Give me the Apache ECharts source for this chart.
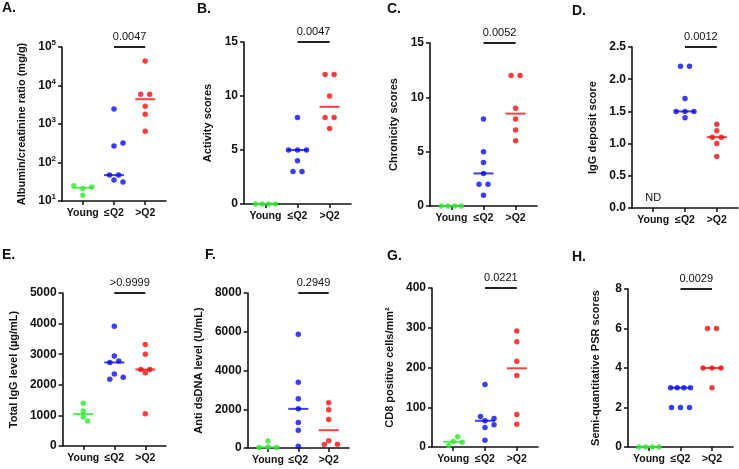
<!DOCTYPE html>
<html>
<head>
<meta charset="utf-8">
<script src="https://cdn.jsdelivr.net/npm/echarts@6/dist/echarts.min.js"></script>
<style>html,body{margin:0;padding:0;background:#fff;}#wrap{position:relative;width:739px;height:469px;overflow:hidden;}.p{position:absolute;}</style>
</head>
<body>
<div id="wrap"></div>
<script>
// ---------- data ----------
const CATS = ['Young', '≤Q2', '>Q2'];

const A_young = [21, 23, 25, 14];
const A_low = [2470, 270, 320, 47, 47, 35, 31];
const A_high = [43000, 5900, 5900, 2900, 1800, 650];
const A_p = '0.0047';

const B_young = [0, 0, 0, 0];
const B_low = [8, 5, 5, 5, 4, 3, 3];
const B_high = [12, 12, 10, 8, 8, 7];
const B_p = '0.0047';

const C_young = [0, 0, 0, 0];
const C_low = [8, 5, 4, 3, 2, 2, 1];
const C_high = [12, 12, 9, 8, 7, 6];
const C_p = '0.0052';

const D_young = [];
const D_low = [2.2, 2.2, 1.7, 1.5, 1.5, 1.5, 1.4];
const D_high = [1.3, 1.2, 1.1, 1.1, 1.0, 0.8];
const D_p = '0.0012';

const E_young = [1400, 1140, 950, 820];
const E_low = [3910, 2940, 2780, 2730, 2350, 2250, 2180];
const E_high = [3320, 3000, 2500, 2500, 2390, 1050];
const E_p = '>0.9999';

const F_young = [360, 50, 20, 30];
const F_low = [5870, 3390, 2540, 2020, 1310, 915, 90];
const F_high = [2330, 1980, 1470, 370, 200, 180];
const F_p = '0.2949';

const G_young = [14, 26, 12, 4];
const G_low = [157, 66, 72, 77, 49, 56, 17];
const G_high = [292, 265, 216, 180, 82, 57];
const G_p = '0.0221';

const H_young = [0, 0, 0, 0];
const H_low = [3, 3, 3, 3, 2, 2, 2];
const H_high = [6, 6, 4, 4, 4, 3];
const H_p = '0.0029';

// ---------- layout / style ----------
const COLORS = ['#33e633', '#0d0df2', '#f21212'];
const FONT = '"Liberation Sans", Arial, sans-serif';
const INK = '#111';
const SLOTS = ['', '', CATS[0], '', '', CATS[1], '', '', CATS[2], '', ''];
const XMIN = -2 / 3, XMAX = 8 / 3;
const isCat = (i, v) => v !== '';

const panels = [
  {box:[0, 0, 185, 235], letter:'A.', lx:2, ly:1, name:'Albumin/creatinine ratio (mg/g)', groups:[A_young,A_low,A_high], p:A_p,
   log:true, min:10, max:100000, grid:{left:62, top:47, width:104, height:154}, gap:29},
  {box:[185, 0, 185, 235], letter:'B.', lx:197, ly:2, name:'Activity scores', groups:[B_young,B_low,B_high], p:B_p,
   min:0, max:15, interval:5, grid:{left:244, top:42, width:107, height:162}, gap:23},
  {box:[370, 0, 185, 235], letter:'C.', lx:387, ly:2, name:'Chronicity scores', groups:[C_young,C_low,C_high], p:C_p,
   min:0, max:15, interval:5, grid:{left:430, top:43, width:107, height:163}, gap:24},
  {box:[555, 0, 184, 235], letter:'D.', lx:572, ly:4, name:'IgG deposit score', groups:[D_young,D_low,D_high], p:D_p,
   min:0, max:2.5, interval:0.5, dec:1, nd:true, grid:{left:632, top:47, width:106, height:161}, gap:26},
  {box:[0, 235, 185, 234], letter:'E.', lx:2, ly:248, name:'Total IgG level (µg/mL)', groups:[E_young,E_low,E_high], p:E_p,
   min:0, max:5000, interval:1000, plain:true, grid:{left:62, top:293, width:104, height:153}, gap:34},
  {box:[185, 235, 185, 234], letter:'F.', lx:205, ly:248, name:'Anti dsDNA level (U/mL)', groups:[F_young,F_low,F_high], p:F_p,
   min:0, max:8000, interval:2000, plain:true, grid:{left:245, top:293, width:104, height:155}, gap:31},
  {box:[370, 235, 185, 234], letter:'G.', lx:387, ly:249, name:'CD8 positive cells/mm²', groups:[G_young,G_low,G_high], p:G_p,
   min:0, max:400, interval:100, grid:{left:432, top:288, width:106, height:159}, gap:31},
  {box:[555, 235, 184, 234], letter:'H.', lx:572, ly:250, name:'Semi-quantitative PSR scores', groups:[H_young,H_low,H_high], p:H_p,
   min:0, max:8, interval:2, grid:{left:628, top:289, width:105, height:158}, gap:27}
];

function median(a) {
  const s = a.slice().sort((x, y) => x - y), n = s.length;
  return n % 2 ? s[(n - 1) / 2] : (s[n / 2 - 1] + s[n / 2]) / 2;
}

// beeswarm-like horizontal spreading (pixel offsets)
function swarm(vals, toPx, S, D) {
  const off = vals.map(() => null);
  const py = vals.map(toPx);
  const ties = new Map();
  vals.forEach((v, i) => { if (!ties.has(v)) ties.set(v, []); ties.get(v).push(i); });
  ties.forEach(idx => {
    if (idx.length > 1) {
      const sp = Math.min(S, 20 / (idx.length - 1));
      idx.forEach((i, k) => { off[i] = (k - (idx.length - 1) / 2) * sp; });
    }
  });
  const placed = [];
  off.forEach((o, i) => { if (o !== null) placed.push(i); });
  const cands = [0, .5, -.5, 1, -1, 1.5, -1.5, 2, -2, 2.5, -2.5, 3, -3];
  vals.forEach((v, i) => {
    if (off[i] !== null) return;
    for (const c of cands) {
      const x = c * S;
      if (placed.every(j => Math.hypot(off[j] - x, py[j] - py[i]) >= D)) { off[i] = x; placed.push(i); break; }
    }
    if (off[i] === null) { off[i] = 0; placed.push(i); }
  });
  return off;
}

const wrap = document.getElementById('wrap');
panels.forEach((P, k) => {
  const [bx, by, bw, bh] = P.box;
  const div = document.createElement('div');
  div.className = 'p';
  div.style.cssText = `left:${bx}px;top:${by}px;width:${bw}px;height:${bh}px;`;
  wrap.appendChild(div);

  const grid = {containLabel:false, left:P.grid.left - bx, top:P.grid.top - by, width:P.grid.width, height:P.grid.height};
  const pxPerX = grid.width / (XMAX - XMIN);
  const toPx = P.log
    ? v => Math.log10(v / P.min) * grid.height / Math.log10(P.max / P.min)
    : v => (v - P.min) * grid.height / (P.max - P.min);

  const xAxes = [
    {type:'category', data:SLOTS, boundaryGap:false, position:'bottom',
     axisLine:{show:true, onZero:false, lineStyle:{color:INK, width:1.6}},
     axisTick:{show:true, interval:isCat, length:4, lineStyle:{color:INK, width:1.5}},
     axisLabel:{show:true, interval:isCat, margin:7, fontFamily:FONT, fontSize:10.5, fontWeight:'bold', color:INK},
     splitLine:{show:false}},
    {type:'value', min:XMIN, max:XMAX, show:false, axisLine:{onZero:false}, splitLine:{show:false}}
  ];
  const y = {type:P.log ? 'log' : 'value', min:P.min, max:P.max, position:'left',
    axisLine:{show:true, onZero:false, lineStyle:{color:INK, width:1.6}},
    axisTick:{show:true, length:4, lineStyle:{color:INK, width:1.5}},
    splitLine:{show:false},
    name:P.name, nameLocation:'middle', nameGap:P.gap,
    nameTextStyle:{fontFamily:FONT, fontSize:11, fontWeight:'bold', color:INK},
    axisLabel:{margin:6, fontFamily:FONT, fontSize:12, fontWeight:'bold', color:INK}};
  if (P.log) {
    y.logBase = 10;
    y.axisLabel.formatter = v => '{b|10}{s|' + Math.round(Math.log10(v)) + '}';
    y.axisLabel.rich = {
      b:{fontFamily:FONT, fontSize:12, fontWeight:'bold', color:INK},
      s:{fontFamily:FONT, fontSize:8, fontWeight:'bold', color:INK, verticalAlign:'top', padding:[0, 0, 8, 0]}
    };
  } else {
    y.interval = P.interval;
    if (P.dec) y.axisLabel.formatter = v => v.toFixed(P.dec);
    else if (P.plain) y.axisLabel.formatter = v => String(v);
  }

  const series = [];
  P.groups.forEach((vals, g) => {
    if (!vals.length) return;
    const off = swarm(vals, toPx, 9, 5.6);
    series.push({type:'scatter', xAxisIndex:1, symbol:'rect', symbolSize:[20, 2], z:3, silent:true,
      itemStyle:{color:COLORS[g]}, data:[[g, median(vals)]]});
    series.push({type:'scatter', xAxisIndex:1, symbolSize:5.5, z:4, silent:true,
      itemStyle:{color:COLORS[g]}, data:vals.map((v, i) => [g + off[i] / pxPerX, v])});
  });
  // significance bar between ≤Q2 and >Q2
  series.push({type:'line', xAxisIndex:1, symbol:'none', z:3, clip:false, silent:true,
    lineStyle:{color:'#222', width:2}, data:[[1, P.max], [2, P.max]]});

  try {
    const chart = echarts.init(div, null, {renderer:'canvas'});
    chart.setOption({
      animation:false,
      backgroundColor:'#fff',
      title:[{text:P.letter, left:P.lx - bx, top:P.ly - by, padding:0,
        textStyle:{fontSize:14, fontWeight:'bold', color:INK}}],
      grid:[grid], xAxis:xAxes, yAxis:[y], series:series
    });
    // p value and ND text placed through the chart's own scales
    const gr = [];
    const pp = chart.convertToPixel({xAxisIndex:1, yAxisIndex:0}, [1.5, P.max]);
    gr.push({type:'text', x:pp[0], y:pp[1] - 5, z:10, silent:true,
      style:{text:P.p, fill:INK, font:'11px ' + FONT, align:'center', verticalAlign:'bottom',
             textAlign:'center', textVerticalAlign:'bottom'}});
    if (P.nd) {
      const np = chart.convertToPixel({xAxisIndex:1, yAxisIndex:0}, [0, P.min]);
      gr.push({type:'text', x:np[0], y:np[1] - 5, z:10, silent:true,
        style:{text:'ND', fill:INK, font:'11px ' + FONT, align:'center', verticalAlign:'bottom',
               textAlign:'center', textVerticalAlign:'bottom'}});
    }
    chart.setOption({graphic:gr});
  } catch (e) { /* keep other panels drawing */ }
});
</script>
</body>
</html>
